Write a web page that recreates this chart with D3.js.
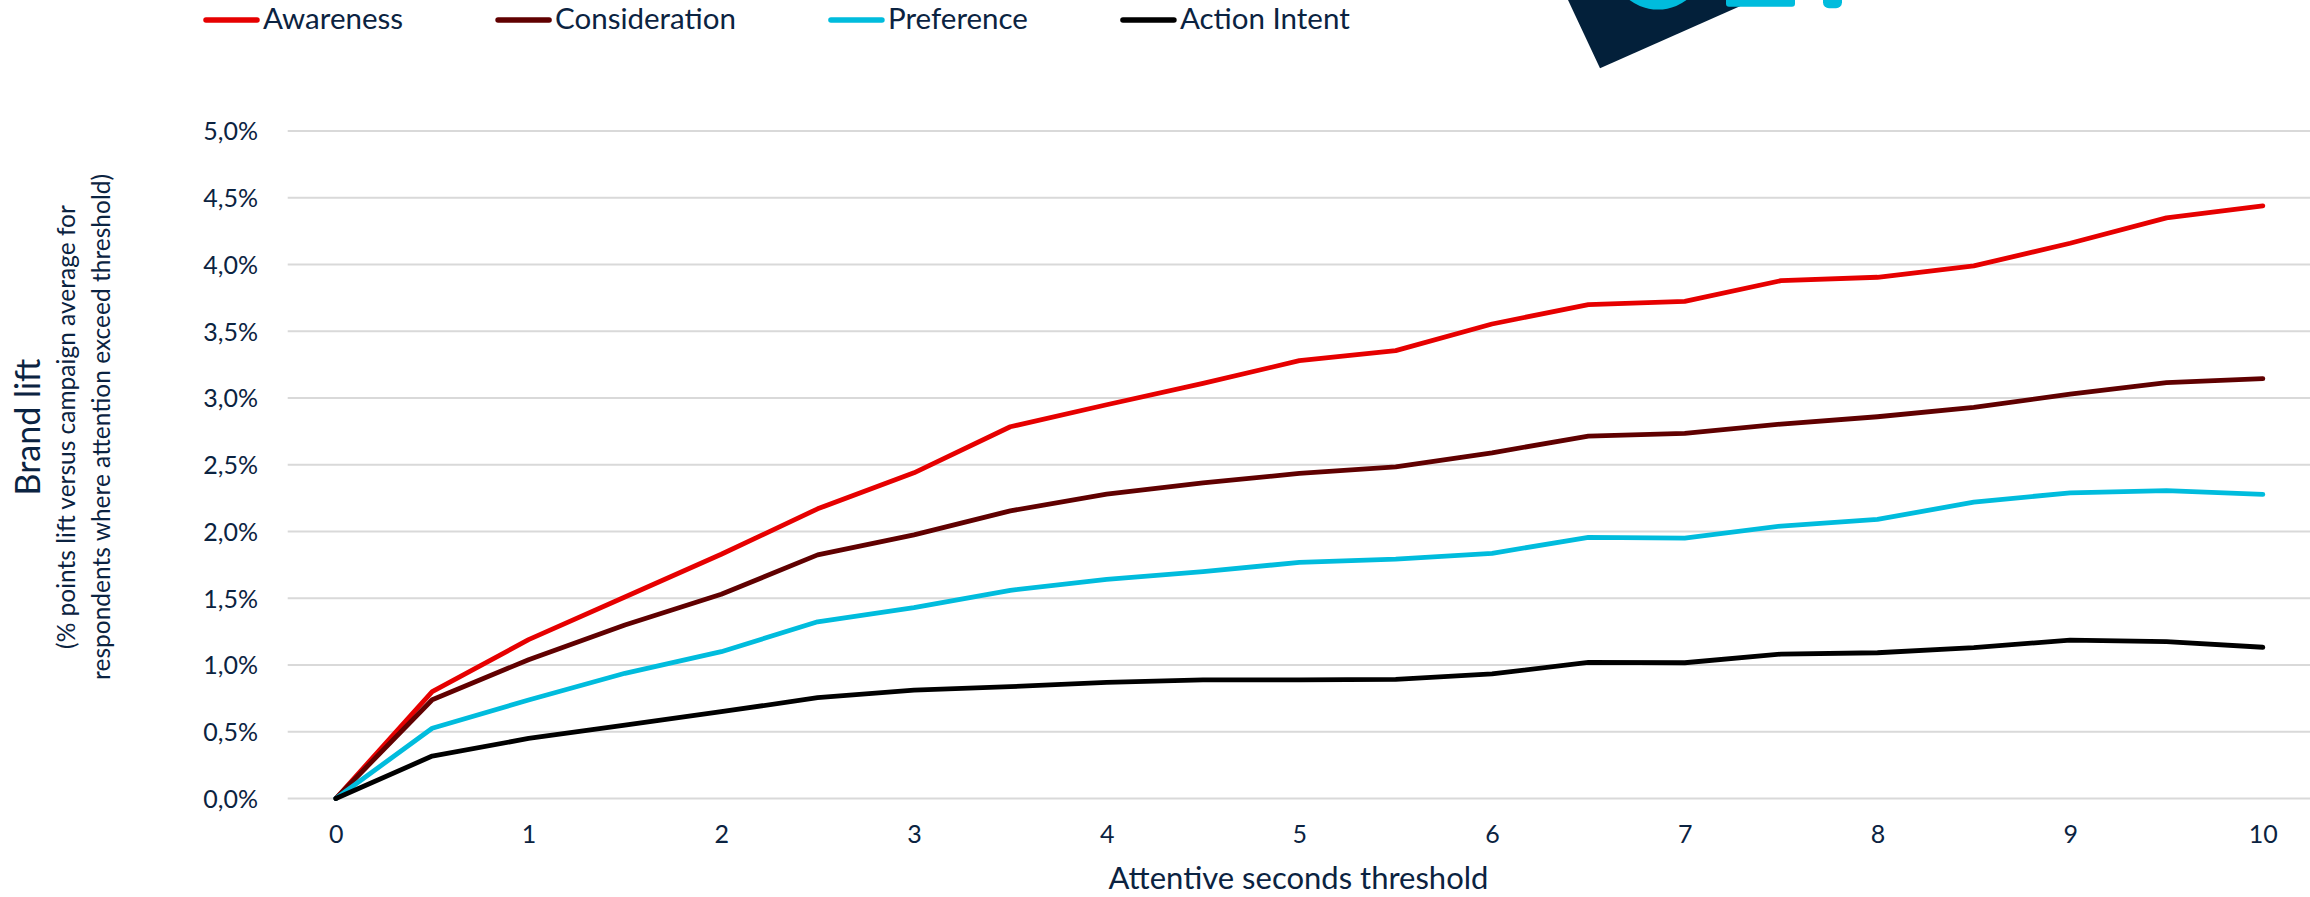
<!DOCTYPE html>
<html>
<head>
<meta charset="utf-8">
<script src="https://cdn.jsdelivr.net/npm/d3@7"></script>
<style>
  html, body { margin: 0; padding: 0; background: #ffffff; }
  svg { display: block; }
  text { font-family: Lato, "Open Sans", sans-serif; fill: #0b2341; }
</style>
</head>
<body>
<svg id="chart" width="2310" height="897"></svg>
<script>
// Attentive-seconds thresholds (x categories)
const thresholds = [0, 0.5, 1, 1.5, 2, 2.5, 3, 3.5, 4, 4.5, 5, 5.5, 6, 6.5, 7, 7.5, 8, 8.5, 9, 9.5, 10];

// Brand lift in % points, one value per threshold
const awareness     = [0, 0.80, 1.19, 1.51, 1.83, 2.17, 2.44, 2.785, 2.95, 3.11, 3.28, 3.355, 3.555, 3.70, 3.725, 3.88, 3.905, 3.99, 4.16, 4.35, 4.44];
const consideration = [0, 0.74, 1.04, 1.30, 1.53, 1.825, 1.975, 2.155, 2.28, 2.365, 2.435, 2.485, 2.59, 2.715, 2.735, 2.805, 2.86, 2.93, 3.03, 3.115, 3.145];
const preference    = [0, 0.526, 0.738, 0.938, 1.10, 1.324, 1.43, 1.56, 1.642, 1.699, 1.769, 1.794, 1.837, 1.957, 1.951, 2.041, 2.091, 2.22, 2.29, 2.306, 2.279];
const actionIntent  = [0, 0.318, 0.45, 0.55, 0.65, 0.755, 0.812, 0.838, 0.87, 0.888, 0.888, 0.893, 0.933, 1.02, 1.017, 1.082, 1.092, 1.13, 1.187, 1.175, 1.133];

const seriesNames  = ["Awareness", "Consideration", "Preference", "Action Intent"];
const seriesColors = ["#e60000", "#600000", "#00bcdd", "#000000"];
const seriesValues = [awareness, consideration, preference, actionIntent];

// Axis ticks
const xTicks = [0, 1, 2, 3, 4, 5, 6, 7, 8, 9, 10];
const yTicks = [0, 0.5, 1, 1.5, 2, 2.5, 3, 3.5, 4, 4.5, 5];

const svg = d3.select("#chart");

// Plot frame: category axis with half a category of padding on each side
const plotLeft = 287.7, plotRight = 2311, plotTop = 131.1, plotBottom = 798.5;
const x = d3.scalePoint()
  .domain(thresholds)
  .range([plotLeft, plotRight])
  .padding(0.5);
const y = d3.scaleLinear().domain([0, 5]).range([plotBottom, plotTop]);

const locale = d3.formatLocale({ decimal: ",", thousands: ".", grouping: [3], currency: ["", "€"] });
const pct = v => locale.format(".1f")(v) + "%";

// Horizontal gridlines
svg.append("g")
  .selectAll("line")
  .data(yTicks)
  .join("line")
  .attr("x1", plotLeft).attr("x2", plotRight)
  .attr("y1", d => y(d)).attr("y2", d => y(d))
  .attr("stroke", "#d9d9d9")
  .attr("stroke-width", 2);

// Y axis labels
const yAxis = d3.axisLeft(y).tickValues(yTicks).tickFormat(pct).tickSize(0).tickPadding(0);
svg.append("g")
  .attr("transform", "translate(258,0)")
  .call(yAxis)
  .call(g => g.select(".domain").remove())
  .call(g => g.selectAll("text")
    .attr("font-size", 25)
    .attr("font-family", "Lato")
    .attr("fill", "#0b2341")
    .attr("dy", "0.35em"));

// X axis labels (integer thresholds only)
const xAxis = d3.axisBottom(x).tickValues(xTicks).tickFormat(d => String(d)).tickSize(0).tickPadding(0);
svg.append("g")
  .attr("transform", "translate(0,834)")
  .call(xAxis)
  .call(g => g.select(".domain").remove())
  .call(g => g.selectAll("text")
    .attr("font-size", 25)
    .attr("font-family", "Lato")
    .attr("fill", "#0b2341")
    .attr("y", 0)
    .attr("dy", "0.35em"));

// Series lines
const line = d3.line()
  .x((d, i) => x(thresholds[i]))
  .y(d => y(d));

svg.append("g")
  .selectAll("path")
  .data(seriesValues)
  .join("path")
  .attr("d", d => line(d))
  .attr("fill", "none")
  .attr("stroke", (d, i) => seriesColors[i])
  .attr("stroke-width", 4.8)
  .attr("stroke-linejoin", "round")
  .attr("stroke-linecap", "round");

// Axis titles
svg.append("text")
  .attr("x", 1298.5).attr("y", 889)
  .attr("text-anchor", "middle")
  .attr("font-size", 31)
  .text("Attentive seconds threshold");

const yTitle = svg.append("g").attr("transform", "translate(0,427) rotate(-90)");
yTitle.append("text")
  .attr("x", 0).attr("y", 40)
  .attr("text-anchor", "middle")
  .attr("font-size", 34)
  .text("Brand lift");
yTitle.append("text")
  .attr("x", 0).attr("y", 75)
  .attr("text-anchor", "middle")
  .attr("font-size", 24.5)
  .text("(% points lift versus campaign average for");
yTitle.append("text")
  .attr("x", 0).attr("y", 110)
  .attr("text-anchor", "middle")
  .attr("font-size", 24.5)
  .text("respondents where attention exceed threshold)");

// Legend across the top
const legend = svg.append("g");
let lx = 203;
seriesNames.forEach((name, i) => {
  const item = legend.append("g");
  item.append("line")
    .attr("x1", lx + 3).attr("x2", lx + 54)
    .attr("y1", 20).attr("y2", 20)
    .attr("stroke", seriesColors[i])
    .attr("stroke-width", 5.5)
    .attr("stroke-linecap", "round");
  const t = item.append("text")
    .attr("x", lx + 60).attr("y", 29.3)
    .attr("font-size", 29.5)
    .text(name);
  lx = lx + 60 + t.node().getComputedTextLength() + 92;
});

// Brand mark in the top margin
const mark = svg.append("g");
mark.append("polygon")
  .attr("points", "1568,0 1600,68.3 1754,0")
  .attr("fill", "#03203a");
mark.append("circle")
  .attr("cx", 1658).attr("cy", -38).attr("r", 47.5)
  .attr("fill", "#00bcdd");
mark.append("rect")
  .attr("x", 1726).attr("y", -10).attr("width", 69).attr("height", 16.7).attr("rx", 3)
  .attr("fill", "#00bcdd");
mark.append("rect")
  .attr("x", 1823).attr("y", -10).attr("width", 19).attr("height", 18.3).attr("rx", 6)
  .attr("fill", "#00bcdd");
</script>
</body>
</html>
